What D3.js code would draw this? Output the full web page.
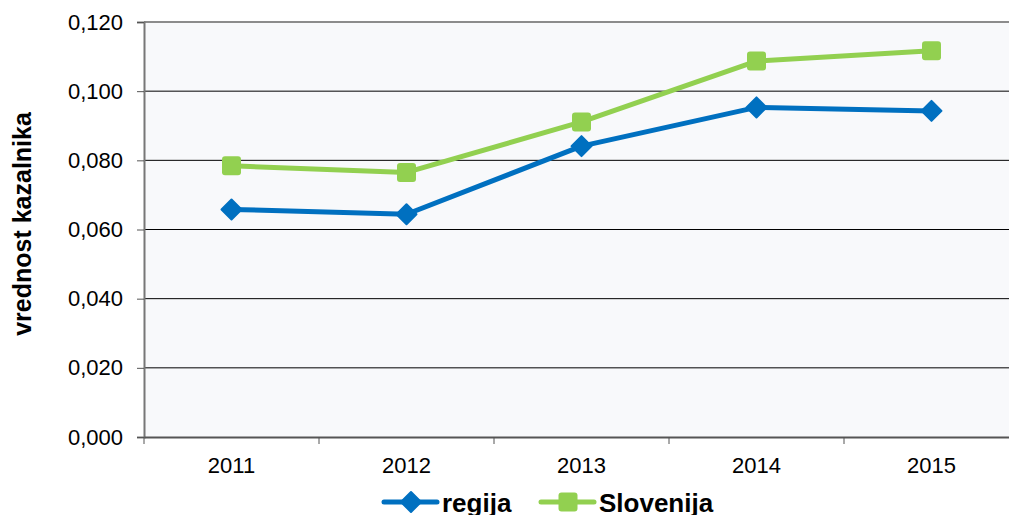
<!DOCTYPE html>
<html lang="en">
<head>
  <meta charset="utf-8">
  <title>vrednost kazalnika</title>
  <script src="https://d3js.org/d3.v7.min.js"></script>
  <style>
    body { margin: 0; background: #fff; }
    text { font-family: "Liberation Sans", Arial, sans-serif; fill: #000; }
  </style>
</head>
<body>
<script>
// data
var years = ["2011", "2012", "2013", "2014", "2015"];
var regija = [0.0658, 0.0644, 0.0841, 0.0953, 0.0943];
var slovenija = [0.0784, 0.0765, 0.0911, 0.1087, 0.1117];
var yTicks = [0, 0.02, 0.04, 0.06, 0.08, 0.10, 0.12];

var width = 1009, height = 515;
var plotL = 144, plotT = 22, plotW = 875, plotH = 415;

var svg = d3.select("body").append("svg")
  .attr("width", width)
  .attr("height", height);

var x = d3.scaleBand().domain(years).range([plotL, plotL + plotW]);
var y = d3.scaleLinear().domain([0, 0.12]).range([plotT + plotH, plotT]);

// plot background
svg.append("rect")
  .attr("x", plotL).attr("y", plotT)
  .attr("width", plotW).attr("height", plotH)
  .attr("fill", "#f8f9fb");

// gridlines
svg.selectAll(".grid")
  .data(yTicks.filter(function(d) { return d > 0; }))
  .enter().append("line")
  .attr("x1", plotL).attr("x2", plotL + plotW)
  .attr("y1", function(d) { return y(d); })
  .attr("y2", function(d) { return y(d); })
  .attr("stroke", function(d) { return d === 0.12 ? "#8c8c8c" : "#000"; })
  .attr("stroke-width", function(d) { return d === 0.12 ? 2 : 1; });

// y axis
var yAxis = d3.axisLeft(y)
  .tickValues(yTicks)
  .tickSize(7)
  .tickPadding(14)
  .tickFormat(function(d) { return d3.format(".3f")(d).replace(".", ","); });
var gy = svg.append("g").attr("transform", "translate(" + plotL + ",0)").call(yAxis);
gy.select(".domain").attr("stroke", "#777").attr("stroke-width", 2);
gy.selectAll(".tick line").attr("stroke", "#555");
gy.selectAll("text").style("font-size", "22px");

// x axis
var xAxis = d3.axisBottom(x).tickSize(0).tickPadding(20);
var gx = svg.append("g").attr("transform", "translate(0," + (plotT + plotH) + ")").call(xAxis);
gx.select(".domain").attr("stroke", "#555").attr("stroke-width", 2);
gx.selectAll("text").style("font-size", "22px");
// category boundary ticks
gx.selectAll(".sep")
  .data(years)
  .enter().append("line")
  .attr("x1", function(d) { return x(d); })
  .attr("x2", function(d) { return x(d); })
  .attr("y1", 0).attr("y2", 7)
  .attr("stroke", "#555");

// y axis title
svg.append("text")
  .attr("transform", "translate(31," + 224 + ") rotate(-90)")
  .attr("text-anchor", "middle")
  .style("font-size", "25px")
  .style("font-weight", "bold")
  .text("vrednost kazalnika");

var cx = function(d, i) { return x(years[i]) + x.bandwidth() / 2; };
var line = d3.line()
  .x(function(d, i) { return x(years[i]) + x.bandwidth() / 2; })
  .y(function(d) { return y(d); });

var series = [
  { name: "regija", values: regija, color: "#0070c0", shape: "diamond" },
  { name: "Slovenija", values: slovenija, color: "#92d050", shape: "square" }
];

function marker(g, s, px, py) {
  if (s.shape === "diamond") {
    g.append("path")
      .attr("d", "M" + px + "," + (py - 10) + "L" + (px + 10) + "," + py + "L" + px + "," + (py + 10) + "L" + (px - 10) + "," + py + "Z")
      .attr("fill", s.color)
      .attr("stroke", s.color).attr("stroke-width", 2).attr("stroke-linejoin", "round");
  } else {
    g.append("rect")
      .attr("x", px - 9.5).attr("y", py - 9.5)
      .attr("width", 19).attr("height", 19)
      .attr("rx", 3)
      .attr("fill", s.color);
  }
}

series.forEach(function(s) {
  var g = svg.append("g");
  g.append("path")
    .datum(s.values)
    .attr("d", line)
    .attr("fill", "none")
    .attr("stroke", s.color)
    .attr("stroke-width", 5)
    .attr("stroke-linejoin", "round");
  s.values.forEach(function(v, i) {
    marker(g, s, cx(v, i), y(v));
  });
});

// legend
var legendX = [384, 541];
series.forEach(function(s, i) {
  var g = svg.append("g").attr("transform", "translate(" + legendX[i] + ",502)");
  g.append("line")
    .attr("x1", 0).attr("x2", 53)
    .attr("stroke", s.color).attr("stroke-width", 5).attr("stroke-linecap", "round");
  marker(g, s, 27, 0);
  g.append("text")
    .attr("x", 58).attr("y", 10)
    .style("font-size", "26px")
    .style("font-weight", "bold")
    .text(s.name);
});
</script>
</body>
</html>
